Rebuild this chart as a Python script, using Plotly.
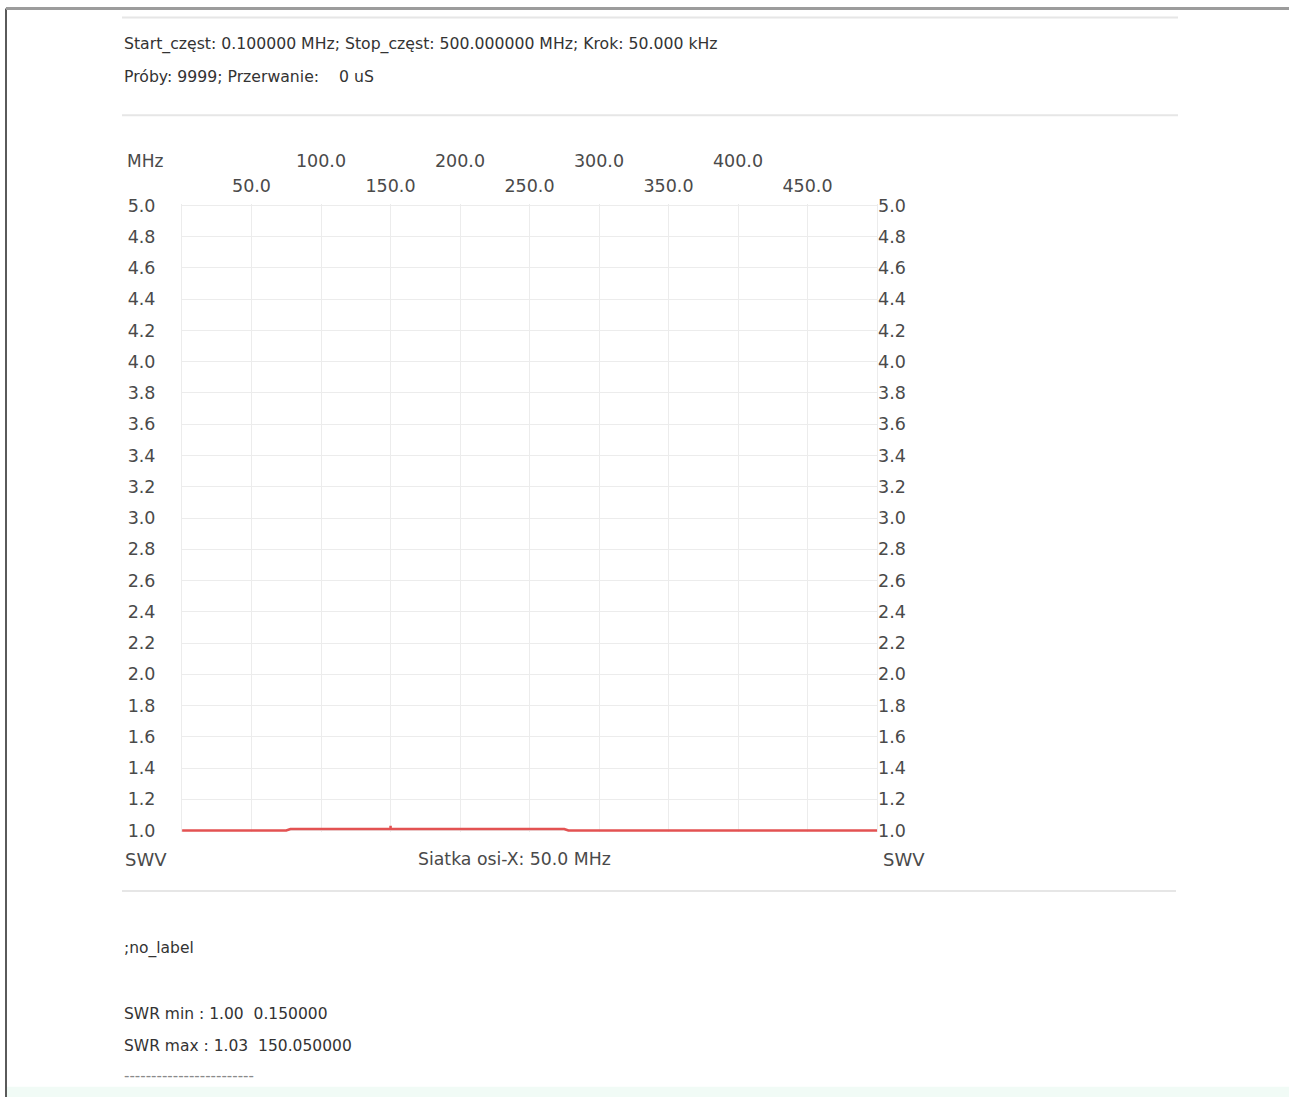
import plotly.graph_objects as go

# --- sweep data (MHz / SWR) ---
freq_mhz = [0.1, 0.15, 75.0, 78.0, 150.0, 150.05, 150.1, 275.0, 278.0, 500.0]
swr_vals = [1.00, 1.00, 1.00, 1.01, 1.01, 1.03, 1.01, 1.01, 1.00, 1.00]

# --- axis ticks ---
x_ticks_low = [50, 150, 250, 350, 450]
x_ticks_high = [100, 200, 300, 400]
x_grid = [0, 50, 100, 150, 200, 250, 300, 350, 400, 450, 500]
y_ticks = [1.0, 1.2, 1.4, 1.6, 1.8, 2.0, 2.2, 2.4, 2.6, 2.8, 3.0,
           3.2, 3.4, 3.6, 3.8, 4.0, 4.2, 4.4, 4.6, 4.8, 5.0]

# --- report texts ---
header_line1 = "Start_częst: 0.100000 MHz; Stop_częst: 500.000000 MHz; Krok: 50.000 kHz"
header_line2 = "Próby: 9999; Przerwanie:    0 uS"
grid_note = "Siatka osi-X: 50.0 MHz"
label_line = ";no_label"
swr_min_line = "SWR min : 1.00  0.150000"
swr_max_line = "SWR max : 1.03  150.050000"
dash_line = "-" * 24

W, H = 1289, 1097
FONT = "DejaVu Sans"
TICK_COLOR = "#4a4a4a"
TEXT_COLOR = "#333333"
GRID = "#ececec"

# vertical placement of the drawing area on the page
PAGE_TOP, PAGE_H = 7.6, 1081.7


def px(x):
    return x / W


def py(y):
    return 1 - (y - PAGE_TOP) / PAGE_H


x_dom = [px(182), px(877)]
y_dom = [py(833.0), py(203.8)]
y_range = [0.99, 5.01]

fig = go.Figure()
fig.add_trace(go.Scatter(
    x=freq_mhz, y=swr_vals, mode="lines",
    line=dict(color="#e35252", width=2.5),
    hoverinfo="x+y", showlegend=False,
))
# invisible companions so the overlay axes get drawn
fig.add_trace(go.Scatter(x=[0, 500], y=[1, 5], xaxis="x2", yaxis="y", mode="none", showlegend=False, hoverinfo="skip"))
fig.add_trace(go.Scatter(x=[0, 500], y=[1, 5], xaxis="x", yaxis="y2", mode="none", showlegend=False, hoverinfo="skip"))

tickfont = dict(family=FONT, size=17.5, color=TICK_COLOR)

fig.update_layout(
    width=W, height=H,
    margin=dict(l=0, r=0, t=0, b=0),
    paper_bgcolor="white", plot_bgcolor="white",
    font=dict(family=FONT, size=17, color=TICK_COLOR),
    xaxis=dict(
        domain=x_dom, range=[0, 500], side="top",
        tickvals=x_grid,
        ticktext=["" if v not in x_ticks_low else f"{v:.1f}" for v in x_grid],
        ticks="", showgrid=True, gridcolor=GRID, gridwidth=1,
        zeroline=False, showline=False, ticklabelstandoff=7,
        tickfont=tickfont,
    ),
    xaxis2=dict(
        domain=x_dom, range=[0, 500], side="top", overlaying="x", anchor="y",
        tickvals=x_ticks_high, ticktext=[f"{v:.1f}" for v in x_ticks_high],
        ticks="", showgrid=False, zeroline=False, showline=False,
        ticklabelstandoff=32,
        tickfont=tickfont,
    ),
    yaxis=dict(
        domain=y_dom, range=y_range, side="left",
        tickvals=y_ticks, ticktext=[f"{v:.1f}" for v in y_ticks],
        ticks="", showgrid=True, gridcolor=GRID, gridwidth=1,
        zeroline=False, showline=True, linecolor=GRID, linewidth=1, mirror=True,
        ticklabelstandoff=22,
        tickfont=tickfont,
    ),
    yaxis2=dict(
        domain=y_dom, range=y_range, side="right", overlaying="y", anchor="x",
        tickvals=y_ticks, ticktext=[f"{v:.1f}" for v in y_ticks],
        ticks="", showgrid=False, zeroline=False, showline=False,
        ticklabelstandoff=0,
        tickfont=tickfont,
    ),
)

annotations = [
    dict(text=header_line1, x=px(122), y=py(44), size=15.7, color=TEXT_COLOR),
    dict(text=header_line2, x=px(122), y=py(76), size=15.7, color=TEXT_COLOR),
    dict(text="MHz", x=px(125), y=py(161), size=17, color=TICK_COLOR),
    dict(text="SWV", x=px(123), y=py(860), size=18, color=TICK_COLOR),
    dict(text="SWV", x=px(881), y=py(860), size=18, color=TICK_COLOR),
    dict(text=grid_note, x=px(416), y=py(860), size=17.3, color=TICK_COLOR),
    dict(text=label_line, x=px(122), y=py(950), size=15.5, color=TEXT_COLOR),
    dict(text=swr_min_line, x=px(122), y=py(1015), size=15.5, color=TEXT_COLOR),
    dict(text=swr_max_line, x=px(122), y=py(1047), size=15.5, color=TEXT_COLOR),
    dict(text=dash_line, x=px(122), y=py(1077), size=15, color="#8a8a8a"),
]
fig.update_layout(annotations=[
    dict(text=a["text"], x=a["x"], y=a["y"], xref="paper", yref="paper",
         xanchor="left", yanchor="middle", showarrow=False,
         font=dict(family=FONT, size=a["size"], color=a["color"]))
    for a in annotations
])

paper = dict(xref="paper", yref="paper")
shapes = [
    # light mint strip at the bottom
    dict(type="rect", x0=px(7), x1=1, y0=py(1088), y1=py(1110), fillcolor="#f1fbf6",
         line=dict(width=0), layer="below", **paper),
    # page frame: dark left edge and grey top edge
    dict(type="line", x0=px(6), x1=px(6), y0=py(8), y1=py(1110), line=dict(color="#5a5a5a", width=2), **paper),
    dict(type="line", x0=px(6), x1=1, y0=py(8), y1=py(8), line=dict(color="#9c9c9c", width=3), **paper),
    # report separators
    dict(type="line", x0=px(122), x1=px(1178), y0=py(17), y1=py(17), line=dict(color="#e6e6e6", width=2), **paper),
    dict(type="line", x0=px(122), x1=px(1178), y0=py(115), y1=py(115), line=dict(color="#e6e6e6", width=2), **paper),
    dict(type="line", x0=px(122), x1=px(1176), y0=py(892), y1=py(892), line=dict(color="#e6e6e6", width=2), **paper),
]
fig.update_layout(shapes=shapes)

fig.write_html("out.html")
